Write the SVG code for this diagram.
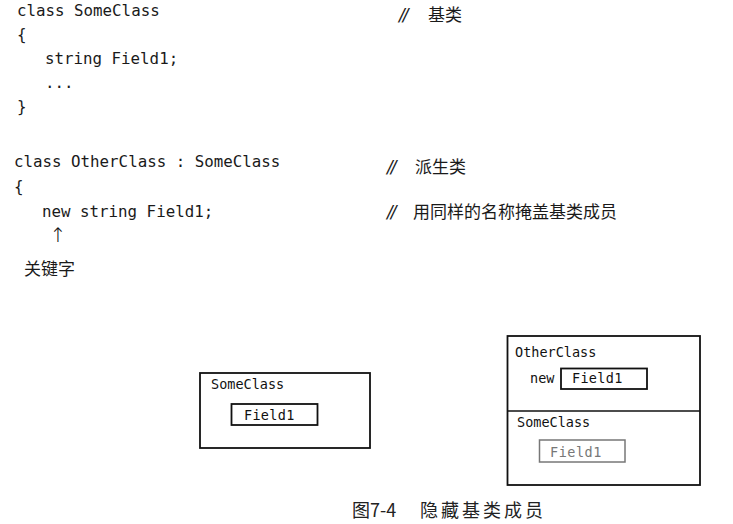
<svg xmlns="http://www.w3.org/2000/svg" width="733" height="524" viewBox="0 0 733 524">
<style>
.code{font-family:"DejaVu Sans Mono","Liberation Mono",monospace;font-size:15.8px;fill:#1a1a1a}
.cn{font-family:"Noto Sans CJK SC","Noto Sans",sans-serif;font-size:17px;fill:#1a1a1a}
.cm{font-family:"DejaVu Sans","Liberation Sans",sans-serif;font-size:17px;font-style:italic;fill:#1a1a1a;letter-spacing:-2px}
.box{fill:none;stroke:#111;stroke-width:1.8}
.inner{fill:none;stroke:#111;stroke-width:1.8}
.ginner{fill:none;stroke:#777;stroke-width:1.5}
.lbl{font-family:"DejaVu Sans Mono","Liberation Mono",monospace;font-size:13.5px;fill:#111}
.glbl{font-family:"DejaVu Sans Mono","Liberation Mono",monospace;font-size:13.5px;fill:#777}
.cap{font-family:"Noto Sans CJK SC","Noto Sans",sans-serif;font-size:18px;fill:#222}
</style>
<rect width="733" height="524" fill="#fff"/>
<g id="code">
<text class="code" x="17" y="16">class SomeClass</text>
<text class="code" x="17" y="40">{</text>
<text class="code" x="45" y="64">string Field1;</text>
<text class="code" x="45" y="88">...</text>
<text class="code" x="17" y="112">}</text>
<text class="code" x="14" y="167">class OtherClass : SomeClass</text>
<text class="code" x="14" y="192">{</text>
<text class="code" x="42" y="217">new string Field1;</text>
<text x="58" y="242" text-anchor="middle" font-family="DejaVu Sans,sans-serif" font-size="20" font-weight="200" fill="#111">↑</text>
<text class="cn" x="24" y="275" font-size="16px">关键字</text>
<text class="cm" x="399" y="21">//</text>
<text class="cn" x="428" y="21">基类</text>
<text class="cm" x="387" y="173">//</text>
<text class="cn" x="415" y="173">派生类</text>
<text class="cm" x="387" y="218">//</text>
<text class="cn" x="413" y="218">用同样的名称掩盖基类成员</text>
</g>
<g id="someclass-box">
<rect class="box" x="200" y="373" width="170" height="75"/>
<text class="lbl" x="211" y="389">SomeClass</text>
<rect class="inner" x="231.5" y="404" width="86" height="21"/>
<text class="lbl" x="244" y="420" letter-spacing="0.3">Field1</text>
</g>
<g id="otherclass-box">
<rect class="box" x="507.5" y="336" width="192.5" height="149"/>
<line x1="507.5" y1="411" x2="700" y2="411" stroke="#111" stroke-width="1.5"/>
<text class="lbl" x="515" y="357">OtherClass</text>
<text class="lbl" x="530" y="383">new</text>
<rect class="inner" x="561" y="368.5" width="86" height="20.5"/>
<text class="lbl" x="572" y="383" letter-spacing="0.3">Field1</text>
<text class="lbl" x="517" y="427">SomeClass</text>
<rect class="ginner" x="539.5" y="440" width="85.5" height="22"/>
<text class="glbl" x="550" y="456.5" letter-spacing="0.5">Field1</text>
</g>
<g id="connectors"></g>
<g id="caption">
<text class="cap" x="352" y="517">图7-4</text>
<text class="cap" x="420" y="517" letter-spacing="3">隐藏基类成员</text>
</g>
</svg>
